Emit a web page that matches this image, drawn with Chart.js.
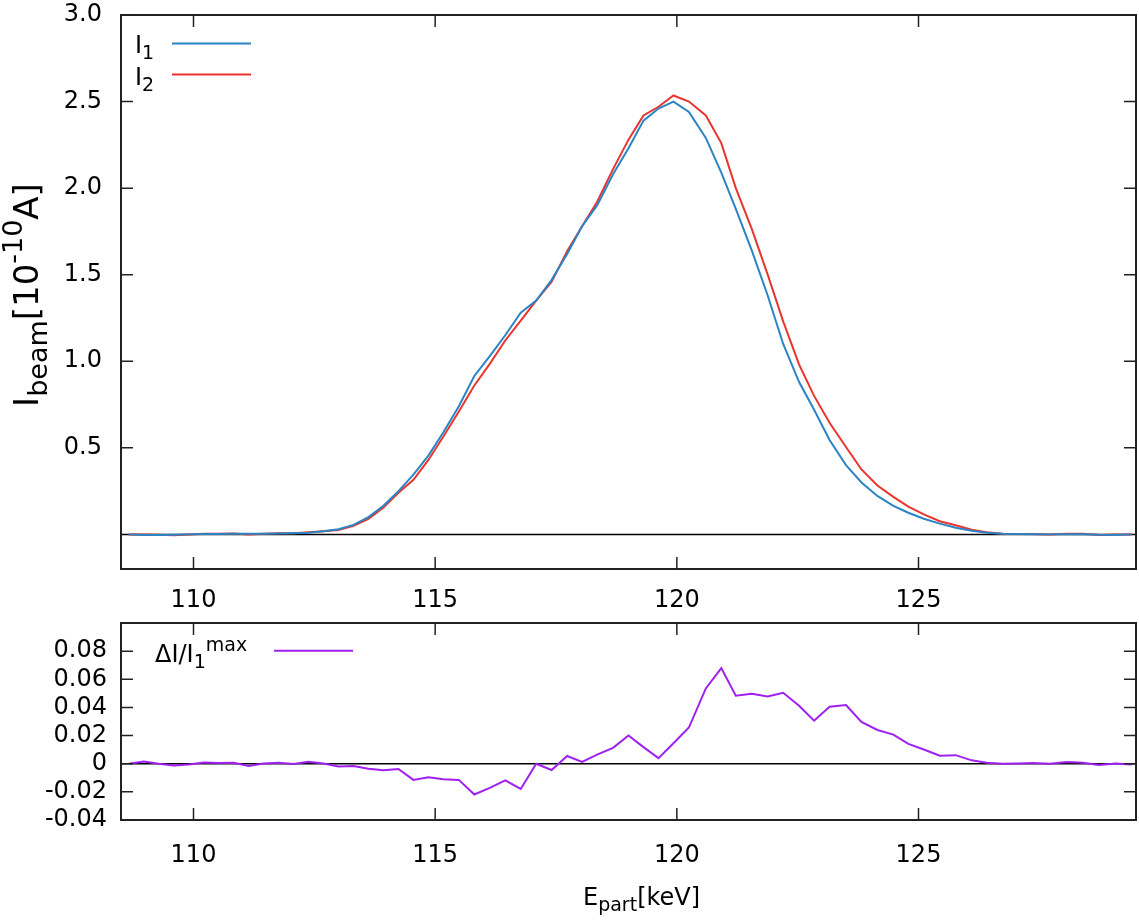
<!DOCTYPE html>
<html>
<head>
<meta charset="utf-8">
<script src="https://cdn.jsdelivr.net/npm/chart.js@4.4.0/dist/chart.umd.min.js"></script>
<style>
  body { margin: 0; background: #fff; }
  #wrap { position: relative; width: 1139px; height: 920px; }
  #top { position: absolute; left: 0; top: 0; }
  #bot { position: absolute; left: 0; top: 620px; }
</style>
</head>
<body>
<div id="wrap">
  <canvas id="top" width="1139" height="620"></canvas>
  <canvas id="bot" width="1139" height="300"></canvas>
</div>
<script>
// particle energy [keV]
const energy = [
  108.66, 108.97, 109.28, 109.59, 109.90, 110.21, 110.52, 110.83, 111.14, 111.45,
  111.76, 112.07, 112.38, 112.69, 113.00, 113.31, 113.62, 113.93, 114.24, 114.55,
  114.86, 115.17, 115.49, 115.81, 116.13, 116.45, 116.77, 117.09, 117.41, 117.73,
  118.04, 118.35, 118.68, 119.00, 119.31, 119.62, 119.93, 120.25, 120.60, 120.92,
  121.22, 121.55, 121.88, 122.20, 122.53, 122.84, 123.16, 123.50, 123.82, 124.15,
  124.48, 124.79, 125.11, 125.44, 125.77, 126.10, 126.41, 126.74, 127.06, 127.37,
  127.72, 128.07, 128.40, 128.73, 129.08, 129.41
];
// beam current [1e-10 A]
const current1 = [
  0, -0.004, -0.003, -0.002, 0.0, 0.002, 0.002, 0.003, 0.004, 0.004,
  0.005, 0.007, 0.01, 0.018, 0.03, 0.055, 0.10, 0.165, 0.25, 0.345,
  0.455, 0.59, 0.74, 0.915, 1.03, 1.15, 1.28, 1.35, 1.47, 1.62,
  1.78, 1.90, 2.08, 2.23, 2.39, 2.46, 2.50, 2.44, 2.29, 2.09,
  1.88, 1.64, 1.38, 1.10, 0.88, 0.72, 0.545, 0.40, 0.30, 0.222,
  0.165, 0.125, 0.09, 0.062, 0.038, 0.021, 0.010, 0.004, 0.002, 0.001,
  0, 0.001, 0.001, -0.002, -0.003, 0
];
const current2 = [
  0, 0.0, -0.002, -0.005, -0.001, 0.004, 0.003, 0.005, 0.0, 0.004,
  0.006, 0.006, 0.012, 0.018, 0.025, 0.05, 0.09, 0.155, 0.24, 0.315,
  0.43, 0.565, 0.71, 0.86, 0.985, 1.12, 1.235, 1.35, 1.46, 1.635,
  1.78, 1.92, 2.11, 2.28, 2.42, 2.47, 2.535, 2.50, 2.42, 2.26,
  2.00, 1.765, 1.50, 1.23, 0.98, 0.80, 0.645, 0.505, 0.375, 0.282,
  0.217, 0.16, 0.115, 0.076, 0.053, 0.027, 0.012, 0.004, 0.002, 0.002,
  0, 0.004, 0.003, -0.004, 0.0, 0
];
// (I2 - I1) / I1max
const relDiff = [
  0, 0.0016, 0, -0.0012, -0.0005, 0.0009, 0.0005, 0.0007, -0.0016, 0.0002,
  0.0007, -0.0002, 0.0014, 0.0002, -0.0019, -0.0016, -0.0035, -0.0047, -0.0038, -0.0115,
  -0.0097, -0.0111, -0.0115, -0.0219, -0.0172, -0.0118, -0.0179, 0, -0.0045, 0.0055,
  0.0013, 0.0065, 0.0113, 0.020, 0.0118, 0.004, 0.0146, 0.0257, 0.0535, 0.068,
  0.0483, 0.0497, 0.0478, 0.0504, 0.0412, 0.0306, 0.0405, 0.0417, 0.0297, 0.024,
  0.0207, 0.0141, 0.0101, 0.0057, 0.0061, 0.0024, 0.0007, 0, 0.0002, 0.0005,
  0, 0.0012, 0.0007, -0.0009, 0.0002, -0.0005
];

const xTicks = [110, 115, 120, 125];
const topYTicks = [0.5, 1.0, 1.5, 2.0, 2.5, 3.0];
const botYTicks = [-0.04, -0.02, 0, 0.02, 0.04, 0.06, 0.08];

const FONT = '"DejaVu Sans", sans-serif';
Chart.defaults.font.family = FONT;
Chart.defaults.font.size = 24;
Chart.defaults.color = '#000';

const toXY = ys => energy.map((e, i) => ({ x: e, y: ys[i] }));

// text with sub/superscripts, parts = [[text, 'sub'|'sup'|undefined], ...]
function richWidth(ctx, parts, big = 24, small = 19) {
  let w = 0;
  for (const [t, k] of parts) {
    ctx.font = (k ? small : big) + 'px ' + FONT;
    w += ctx.measureText(t).width;
  }
  return w;
}
function drawRich(ctx, parts, x, y, big = 24, small = 19) {
  ctx.textBaseline = 'alphabetic';
  ctx.textAlign = 'left';
  for (const [t, k] of parts) {
    ctx.font = (k ? small : big) + 'px ' + FONT;
    const dy = k === 'sub' ? big * 0.25 : k === 'sup' ? -big * 0.46 : 0;
    ctx.fillText(t, x, y + dy);
    x += ctx.measureText(t).width;
  }
}

const decor = {
  id: 'decor',
  beforeDatasetsDraw(chart) {
    const { ctx, chartArea: a, scales: { y } } = chart;
    const y0 = y.getPixelForValue(0);
    ctx.save();
    ctx.strokeStyle = '#000';
    ctx.lineWidth = 1.5;
    ctx.beginPath();
    ctx.moveTo(a.left, y0);
    ctx.lineTo(a.right, y0);
    ctx.stroke();
    ctx.restore();
  },
  afterDraw(chart, args, opts) {
    const { ctx, chartArea: a, scales: { x, y } } = chart;
    ctx.save();
    ctx.strokeStyle = '#222';
    ctx.lineWidth = 2;
    ctx.strokeRect(a.left, a.top, a.right - a.left, a.bottom - a.top);
    // inward tick marks on all four sides
    ctx.lineWidth = 1.5;
    ctx.beginPath();
    x.ticks.forEach(t => {
      const px = x.getPixelForValue(t.value);
      ctx.moveTo(px, a.bottom); ctx.lineTo(px, a.bottom - 12);
      ctx.moveTo(px, a.top); ctx.lineTo(px, a.top + 12);
    });
    y.ticks.forEach(t => {
      const py = y.getPixelForValue(t.value);
      ctx.moveTo(a.left, py); ctx.lineTo(a.left + 12, py);
      ctx.moveTo(a.right, py); ctx.lineTo(a.right - 12, py);
    });
    ctx.stroke();

    // legend
    ctx.fillStyle = '#000';
    opts.legend.forEach((item, i) => {
      drawRich(ctx, item.parts, item.x, item.y);
      ctx.strokeStyle = chart.data.datasets[i].borderColor;
      ctx.lineWidth = 2;
      ctx.beginPath();
      ctx.moveTo(item.x1, item.ly);
      ctx.lineTo(item.x2, item.ly);
      ctx.stroke();
    });

    // axis titles
    ctx.fillStyle = '#000';
    if (opts.yTitle) {
      const w = richWidth(ctx, opts.yTitle, 34, 27);
      ctx.save();
      ctx.translate(opts.yTitleX, (a.top + a.bottom) / 2 + 3);
      ctx.rotate(-Math.PI / 2);
      drawRich(ctx, opts.yTitle, -w / 2, 0, 34, 27);
      ctx.restore();
    }
    if (opts.xTitle) {
      drawRich(ctx, opts.xTitle, opts.xTitleX, opts.xTitleY);
    }
    ctx.restore();
  }
};

function fitY(width) {
  return s => { s.width = width; s.paddingTop = 0; s.paddingBottom = 0; };
}
function fitX(height) {
  return s => { s.height = height; s.paddingLeft = 0; s.paddingRight = 0; };
}

new Chart(document.getElementById('top'), {
  type: 'line',
  data: {
    datasets: [
      { label: 'I1', data: toXY(current1), borderColor: '#2a84c6', borderWidth: 2, pointRadius: 0, tension: 0 },
      { label: 'I2', data: toXY(current2), borderColor: '#e8352d', borderWidth: 2, pointRadius: 0, tension: 0 }
    ]
  },
  options: {
    responsive: false,
    animation: false,
    layout: { padding: { top: 15, right: 3, left: 0, bottom: 0 } },
    plugins: {
      legend: { display: false },
      tooltip: { enabled: false },
      decor: {
        legend: [
          { parts: [['I'], ['1', 'sub']], x: 135, y: 53, x1: 172, x2: 251, ly: 43.5 },
          { parts: [['I'], ['2', 'sub']], x: 135, y: 84.5, x1: 172, x2: 251, ly: 74.5 }
        ],
        yTitle: [['I'], ['beam', 'sub'], ['[10'], ['-10', 'sup'], ['A]']],
        yTitleX: 38
      }
    },
    scales: {
      x: {
        type: 'linear', min: 108.5, max: 129.5,
        afterBuildTicks: s => { s.ticks = xTicks.map(v => ({ value: v })); },
        afterFit: fitX(51),
        grid: { display: false, drawTicks: false },
        border: { display: false },
        ticks: { padding: 17, maxRotation: 0, callback: v => String(v) }
      },
      y: {
        min: -0.2, max: 3.0,
        afterBuildTicks: s => { s.ticks = topYTicks.map(v => ({ value: v })); },
        afterFit: fitY(121),
        grid: { display: false, drawTicks: false },
        border: { display: false },
        ticks: { padding: 19, callback: v => v.toFixed(1) }
      }
    }
  },
  plugins: [decor]
});

new Chart(document.getElementById('bot'), {
  type: 'line',
  data: {
    datasets: [
      { label: 'dI/I1max', data: toXY(relDiff), borderColor: '#a020f0', borderWidth: 2, pointRadius: 0, tension: 0 }
    ]
  },
  options: {
    responsive: false,
    animation: false,
    layout: { padding: { top: 3, right: 3, left: 0, bottom: 0 } },
    plugins: {
      legend: { display: false },
      tooltip: { enabled: false },
      decor: {
        legend: [
          { parts: [['\u0394I/I'], ['1', 'sub'], ['max', 'sup']], x: 155, y: 41.7, x1: 274, x2: 353, ly: 30.7 }
        ],
        xTitle: [['E'], ['part', 'sub'], ['[keV]']],
        xTitleX: 583,
        xTitleY: 285
      }
    },
    scales: {
      x: {
        type: 'linear', min: 108.5, max: 129.5,
        afterBuildTicks: s => { s.ticks = xTicks.map(v => ({ value: v })); },
        afterFit: fitX(100),
        grid: { display: false, drawTicks: false },
        border: { display: false },
        ticks: { padding: 21, maxRotation: 0, callback: v => String(v) }
      },
      y: {
        min: -0.04, max: 0.1,
        afterBuildTicks: s => { s.ticks = botYTicks.map(v => ({ value: v })); },
        afterFit: fitY(121),
        grid: { display: false, drawTicks: false },
        border: { display: false },
        ticks: { padding: 14, callback: v => (v === 0 ? '0' : v.toFixed(2)) }
      }
    }
  },
  plugins: [decor]
});
</script>
</body>
</html>
